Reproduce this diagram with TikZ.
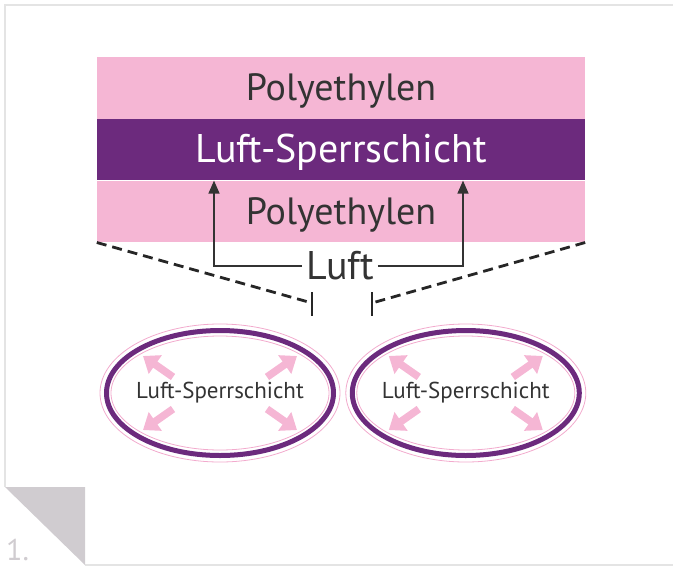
\documentclass[tikz,border=0pt]{standalone}
\usepackage{fontspec}
\setmainfont{PT Sans}
\usepackage{tikz}
\usetikzlibrary{shapes.geometric, arrows.meta, positioning}
\definecolor{polypink}{RGB}{245,182,212}
\definecolor{sperrpurple}{RGB}{108,42,125}
\definecolor{rimpink}{RGB}{242,170,205}
\definecolor{foldgray}{RGB}{208,204,208}
\definecolor{framegray}{RGB}{228,228,228}
\definecolor{inkgray}{RGB}{51,51,51}
\tikzstyle{band} = [minimum width=488pt, minimum height=61.5pt, inner sep=0pt, text height=26pt, text depth=0pt, font=\fontsize{38}{38}\selectfont]
\tikzstyle{arrow} = [inkgray, line width=1.3pt, -{Triangle[width=11pt,length=13pt]}]
\tikzstyle{dashline} = [black!85, line width=2.8pt, dash pattern=on 10pt off 6pt]
\tikzstyle{tickline} = [black!85, line width=2.8pt]
\tikzstyle{cell} = [ellipse, draw=rimpink, line width=0.8pt, minimum width=240pt, minimum height=138pt, inner sep=0pt, font=\fontsize{23}{23}\selectfont, text=inkgray]
\tikzstyle{spread} = [polypink, line width=7.5pt, -{Triangle[width=22pt,length=15pt]}]

\begin{document}
\begin{tikzpicture}[x=1pt, y=-1pt]
        \useasboundingbox (0,0) rectangle (673,566);
        % frame and folded corner
        \draw[framegray, line width=1.5pt] (5,487) -- (5,5) -- (673,5);
        \draw[framegray, line width=1.5pt] (85,565) -- (673,565);
        \fill[foldgray] (5,487) -- (85,487) -- (85,565) -- cycle;
        \node[text=foldgray, font=\fontsize{30}{30}\selectfont, anchor=base west, inner sep=0pt] (num) at (6,560) {1.};
        % layers
        \node[band, fill=polypink, text=inkgray] (poly1) at (341,87.75) {Polyethylen};
        \node[band, fill=sperrpurple, text=white, below=0pt of poly1, font=\fontsize{40}{40}\selectfont] (sperr) {Luft-Sperrschicht};
        \node[band, fill=polypink, text=inkgray, below=0pt of sperr] (poly2) {Polyethylen};
        \node[text=inkgray, font=\fontsize{40}{40}\selectfont, text height=27pt, text depth=0pt, inner sep=4pt] (luft) at (340,266) {Luft};
        \draw[arrow] (luft.west) -| ([xshift=-127pt]sperr.south);
        \draw[arrow] (luft.east) -| ([xshift=122pt]sperr.south);
        % zoom lines
        \coordinate (tickL) at (312,303);
        \coordinate (tickR) at (372,303);
        \draw[dashline] (poly2.south west) -- (tickL);
        \draw[dashline] (poly2.south east) -- (tickR);
        \draw[tickline] ([yshift=11pt]tickL) -- ([yshift=-13pt]tickL);
        \draw[tickline] ([yshift=11pt]tickR) -- ([yshift=-13pt]tickR);
        % cells
        \node[cell] (cellL) at (220,393) {Luft-Sperrschicht};
        \node[cell, right=5pt of cellL] (cellR) {Luft-Sperrschicht};
        \foreach \c in {cellL, cellR} {
            \draw[sperrpurple, line width=5pt] (\c.center) ellipse [x radius=113.5pt, y radius=62.5pt];
            \draw[rimpink, line width=0.8pt] (\c.center) ellipse [x radius=109pt, y radius=57pt];
            \foreach \sx/\sy in {-1/-1, 1/-1, -1/1, 1/1}
                \draw[spread] ([shift={(\sx*47pt,\sy*16pt)}]\c.center) -- ([shift={(\sx*77pt,\sy*37pt)}]\c.center);
        }
\end{tikzpicture}
\end{document}
